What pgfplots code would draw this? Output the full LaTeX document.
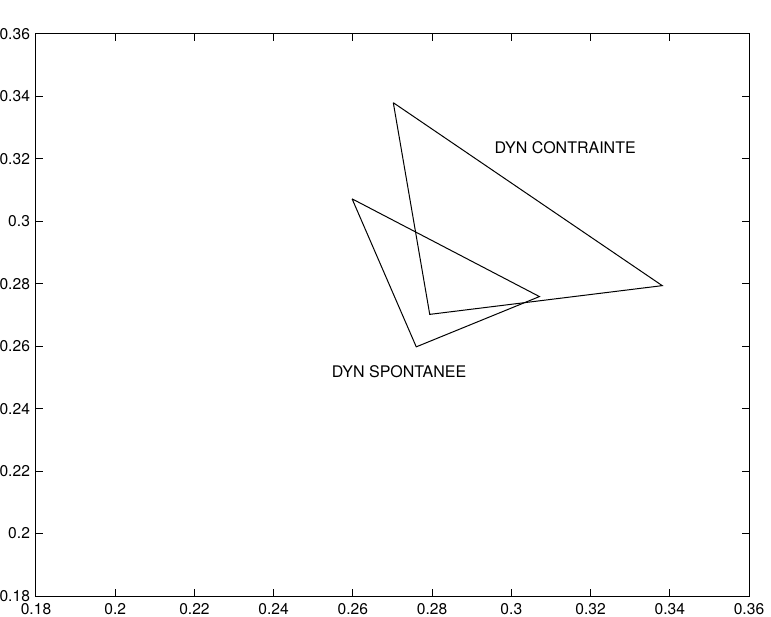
\documentclass[border=0pt]{standalone}
\usepackage{fontspec}
\setmainfont{TeX Gyre Heros}
\usepackage{pgfplots}
\pgfplotsset{compat=1.18}

\begin{document}
\begin{tikzpicture}
\begin{axis}[
  name=ax,
  scale only axis,
  width=356.5pt, height=281pt,
  xmin=0.18, xmax=0.36,
  ymin=0.18, ymax=0.36,
  xtick={0.18,0.2,0.22,0.24,0.26,0.28,0.3,0.32,0.34,0.36},
  ytick={0.18,0.2,0.22,0.24,0.26,0.28,0.3,0.32,0.34,0.36},
  scaled ticks=false,
  tick align=inside,
  major tick length=3.5pt,
  tick style={black, line width=0.5pt},
  axis line style={line width=0.5pt},
  ticklabel style={font=\fontsize{7.8}{9}\selectfont},
  /pgf/number format/assume math mode=true,
  xticklabel style={/pgf/number format/fixed, /pgf/number format/precision=2},
  yticklabel style={/pgf/number format/fixed, /pgf/number format/precision=2, xshift=0.5pt},
  clip=false,
]
  % dynamique contrainte
  \addplot[black, line width=0.5pt, mark=none] coordinates {
    (0.2702,0.3380) (0.2794,0.2702) (0.3381,0.2794) (0.2702,0.3380)
  };
  % dynamique spontanee
  \addplot[black, line width=0.5pt, mark=none] coordinates {
    (0.2598,0.3072) (0.2760,0.2598) (0.3071,0.2759) (0.2598,0.3072)
  };
  \node[anchor=west, inner sep=0pt, font=\fontsize{8}{9}\selectfont]
    at (axis cs:0.2957,0.3235) {DYN CONTRAINTE};
  \node[anchor=west, inner sep=0pt, font=\fontsize{8}{9}\selectfont]
    at (axis cs:0.2546,0.2517) {DYN SPONTANEE};
\end{axis}
\pgfresetboundingbox
\path (ax.south west) ++(-18pt,-10pt) coordinate (bbsw);
\path (ax.north east) ++(11pt,17pt) coordinate (bbne);
\useasboundingbox (bbsw) rectangle (bbne);
\end{tikzpicture}
\end{document}
